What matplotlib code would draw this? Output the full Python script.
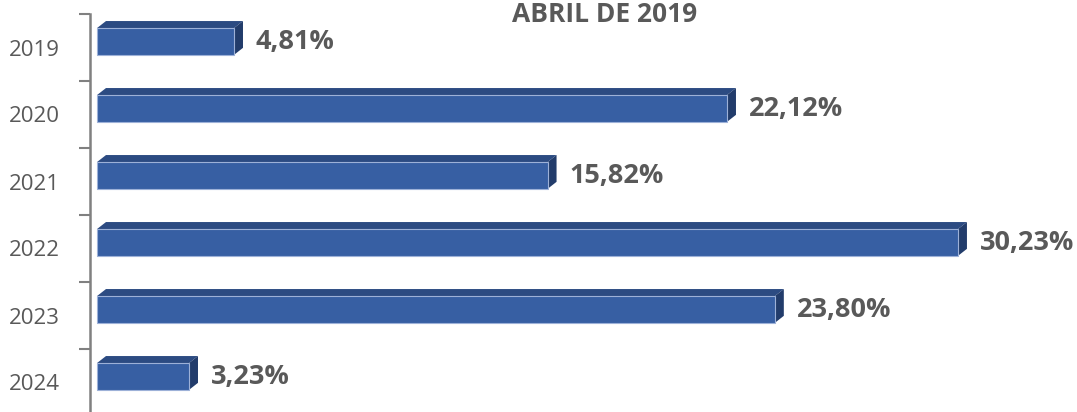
import matplotlib.pyplot as plt
from matplotlib.patches import Polygon
import numpy as np

years = ['2019', '2020', '2021', '2022', '2023', '2024']
values = [4.81, 22.12, 15.82, 30.23, 23.80, 3.23]
labels = ['4,81%', '22,12%', '15,82%', '30,23%', '23,80%', '3,23%']
title = 'ABRIL DE 2019'

front = '#375FA3'
top = '#2C4B82'
side = '#223C6B'
grey = '#595959'

fig = plt.figure(figsize=(10.77, 4.12), dpi=100)
ax = fig.add_axes([90 / 1077, -4 / 412, 987 / 1077, 402 / 412])

px = 28.48  # pixels per percent
ax.set_xlim(-7 / px, 980 / px)
ax.set_ylim(5.5, -0.5)

h = 0.40
shift = -0.09  # front face sits a bit above category centre
dx = 9 / px
dy = 0.105

y = np.arange(len(years))
for i, v in enumerate(values):
    yc = y[i] + shift
    y0, y1 = yc - h / 2, yc + h / 2
    # top face
    ax.add_patch(Polygon([(0, y0), (v, y0), (v + dx, y0 - dy), (dx, y0 - dy)],
                         closed=True, facecolor=top, edgecolor='none'))
    # side face
    ax.add_patch(Polygon([(v, y0), (v + dx, y0 - dy), (v + dx, y1 - dy), (v, y1)],
                         closed=True, facecolor=side, edgecolor='none'))
ax.barh(y + shift, values, height=h, color=front, edgecolor='#9DB1D8', linewidth=0.8)

for i, v in enumerate(values):
    ax.text(v + dx + 0.45, y[i] + shift + 0.01, labels[i], fontsize=19.5,
            fontweight='bold', color=grey, va='center', ha='left',
            family='Open Sans')

ax.set_yticks(y)
ax.set_yticklabels(years, fontsize=16, color=grey, family='Open Sans')
ax.tick_params(axis='y', which='major', length=0, pad=22)
ax.set_yticks(np.arange(-0.5, 6.0, 1.0), minor=True)
ax.tick_params(axis='y', which='minor', length=8, width=1.5, color='#808080')
ax.set_xticks([])

for s in ['top', 'right', 'bottom']:
    ax.spines[s].set_visible(False)
ax.spines['left'].set_color('#808080')
ax.spines['left'].set_linewidth(1.8)

fig.text(605 / 1077, 1 - 14 / 412, title, fontsize=19, fontweight='bold',
         color=grey, ha='center', va='center', family='Open Sans')

fig.savefig('out.png', dpi=100)
